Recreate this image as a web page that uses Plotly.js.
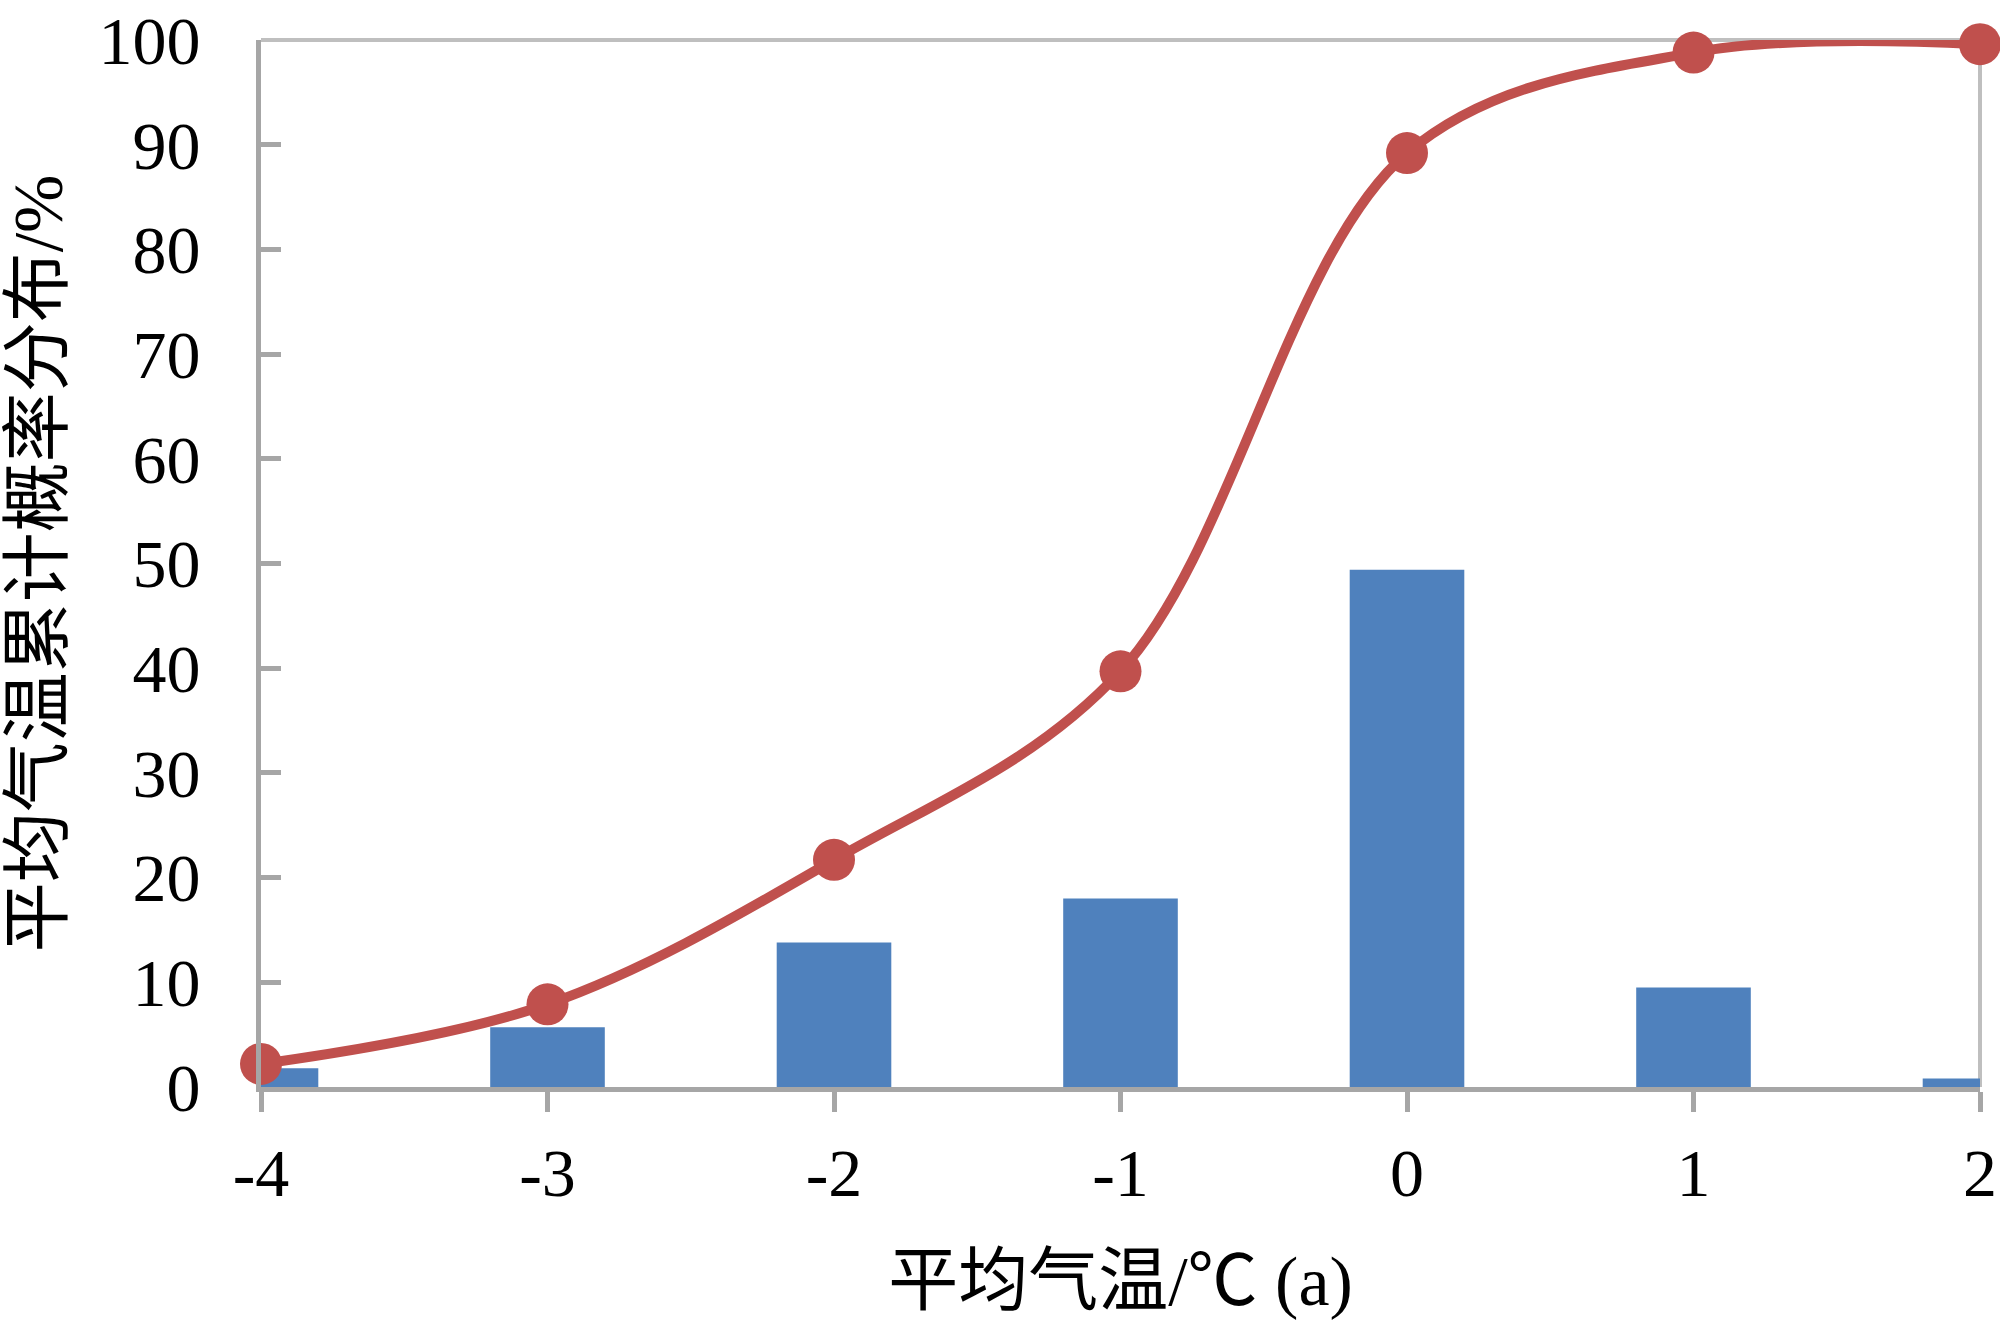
<!DOCTYPE html>
<html>
<head>
<meta charset="utf-8">
<script src="https://cdn.plot.ly/plotly-3.0.1.min.js"></script>
<style>html,body{margin:0;padding:0;background:#fff;}#chart{width:2000px;height:1320px;}</style>
</head>
<body>
<div id="chart"></div>
<script>
const temps = [-4, -3, -2, -1, 0, 1, 2];
const freq = [1.8, 5.7, 13.8, 18.0, 49.4, 9.5, 0.8];
const cumulative = [2.2, 7.9, 21.7, 39.7, 89.2, 98.8, 99.6];
const yTicks = [0, 10, 20, 30, 40, 50, 60, 70, 80, 90, 100];
const xTitle = '平均气温/℃ (a)';
const yTitle = '平均气温累计概率分布/%';

const fontFam = '"Liberation Serif", "Times New Roman", "Noto Sans CJK SC", serif';

const traces = [
  {
    type: 'bar', x: temps, y: freq, width: 0.4,
    marker: {color: '#4f81bd'}, hoverinfo: 'skip'
  },
  {
    type: 'scatter', mode: 'lines+markers', x: temps, y: cumulative,
    line: {color: '#c0504d', width: 10, shape: 'spline', smoothing: 1},
    marker: {color: '#c0504d', size: 42},
    cliponaxis: false
  }
];

const layout = {
  width: 2000, height: 1320,
  margin: {l: 261, r: 20, t: 40, b: 233},
  paper_bgcolor: '#fff', plot_bgcolor: '#fff',
  showlegend: false,
  font: {family: fontFam, color: '#000', size: 66},
  xaxis: {
    range: [-4, 2], tickvals: temps, ticktext: temps.map(String),
    showgrid: false, zeroline: false,
    showline: true, linecolor: '#a6a6a6', linewidth: 5,
    ticks: 'outside', ticklen: 20, tickwidth: 5, tickcolor: '#a6a6a6',
    ticklabelstandoff: 2, ticklabeloverflow: 'allow',
    tickfont: {family: fontFam, size: 68, color: '#000'},
    title: {text: xTitle, font: {family: fontFam, size: 70, color: '#000'}, standoff: 50}
  },
  yaxis: {
    range: [0, 100], tickvals: yTicks, ticktext: yTicks.map(String),
    showgrid: false, zeroline: false,
    showline: true, linecolor: '#a6a6a6', linewidth: 5,
    ticks: 'inside', ticklen: 20, tickwidth: 5, tickcolor: '#a6a6a6',
    ticklabelstandoff: 42, ticklabeloverflow: 'allow',
    tickfont: {family: fontFam, size: 68, color: '#000'},
    title: {text: yTitle, font: {family: fontFam, size: 70, color: '#000'}, standoff: 48}
  },
  shapes: [
    {type: 'line', xref: 'paper', yref: 'paper', x0: 0, x1: 1, y0: 1, y1: 1, line: {color: '#bfbfbf', width: 4}, layer: 'below'},
    {type: 'line', xref: 'paper', yref: 'paper', x0: 1, x1: 1, y0: 0, y1: 1, line: {color: '#bfbfbf', width: 4}, layer: 'below'}
  ]
};

Plotly.newPlot('chart', traces, layout, {displayModeBar: false, staticPlot: true});
</script>
</body>
</html>
